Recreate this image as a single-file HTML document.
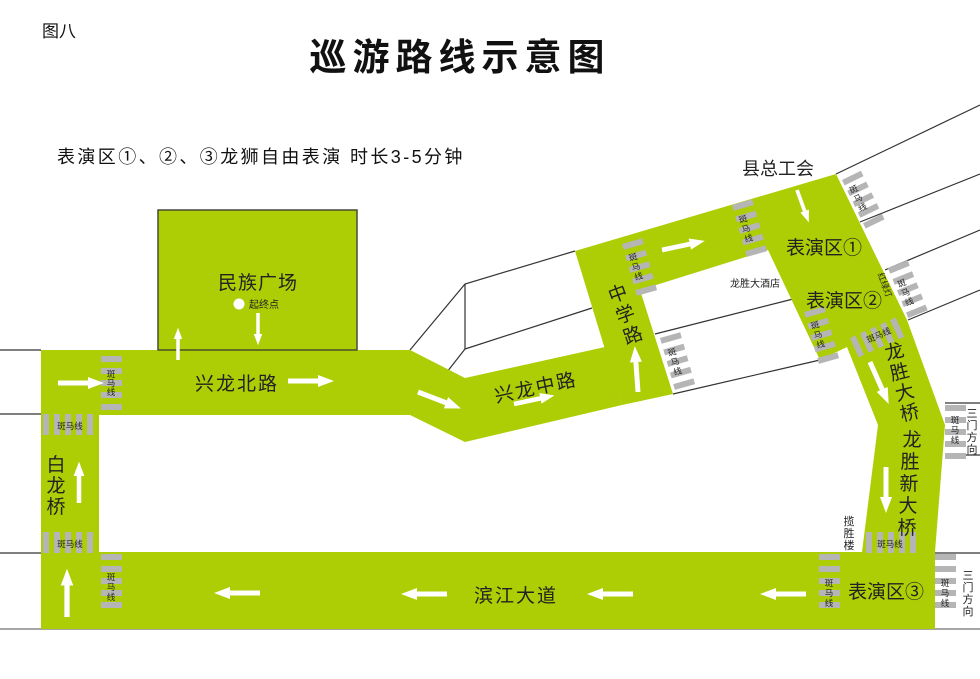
<!DOCTYPE html>
<html><head><meta charset="utf-8"><style>
body{margin:0;background:#fff;}
svg{display:block;font-family:"Liberation Sans","Noto Sans CJK SC",sans-serif;}
</style></head><body>
<svg width="980" height="679" viewBox="0 0 980 679" xmlns="http://www.w3.org/2000/svg">
<defs>
<g id="zv"><rect x="0" y="0" width="21" height="6" fill="#b5b5b5"/><rect x="0" y="12" width="21" height="6" fill="#b5b5b5"/><rect x="0" y="24" width="21" height="6" fill="#b5b5b5"/><rect x="0" y="36" width="21" height="6" fill="#b5b5b5"/><rect x="0" y="48" width="21" height="6" fill="#b5b5b5"/></g>
<g id="zh"><rect x="0" y="0" width="6" height="21" fill="#b5b5b5"/><rect x="11" y="0" width="6" height="21" fill="#b5b5b5"/><rect x="22" y="0" width="6" height="21" fill="#b5b5b5"/><rect x="33" y="0" width="6" height="21" fill="#b5b5b5"/><rect x="44" y="0" width="6" height="21" fill="#b5b5b5"/></g>
<path id="ar" d="M0,-2.5 L30,-2.5 L30,-6 L46,0 L30,6 L30,2.5 L0,2.5Z" fill="#fff"/>
</defs>
<rect width="980" height="679" fill="#fff"/>
<text x="42" y="37" font-size="17" fill="#111">图八</text>
<text x="460" y="70" font-size="37" font-weight="bold" text-anchor="middle" fill="#111" letter-spacing="6">巡游路线示意图</text>
<text x="57" y="163" font-size="18" fill="#111" letter-spacing="2.4">表演区①、②、③龙狮自由表演 时长3-5分钟</text>

<!-- outline lines -->
<g stroke="#333" stroke-width="1.2" fill="none">
<line x1="0" y1="350" x2="41" y2="350"/><line x1="0" y1="414" x2="41" y2="414"/>
<line x1="0" y1="553" x2="41" y2="553"/>
<line x1="935" y1="553" x2="980" y2="553"/>
<polyline points="410,350 465,284 575,251"/>
<line x1="465" y1="284" x2="465" y2="349"/>
<line x1="447" y1="372" x2="465" y2="349"/>
<line x1="465" y1="349" x2="592" y2="308"/>
<line x1="655" y1="334" x2="805" y2="296"/>
<line x1="673" y1="394" x2="820" y2="360"/>
<line x1="836" y1="174" x2="980" y2="105"/>
<line x1="860" y1="222" x2="980" y2="174"/>
<line x1="885" y1="270" x2="980" y2="230"/>
<line x1="908" y1="320" x2="980" y2="290"/>
<line x1="945" y1="403" x2="980" y2="403"/>
<line x1="945" y1="455" x2="980" y2="455"/>
<rect x="158" y="210" width="199" height="140"/>
</g>
<line x1="0" y1="629" x2="980" y2="629" stroke="#888" stroke-width="1.5"/>

<!-- green -->
<g fill="#adcd04">
<rect x="158" y="210" width="199" height="140"/>
<rect x="41" y="350" width="369" height="65"/>
<rect x="41" y="415" width="58" height="137"/>
<rect x="41" y="552" width="894" height="77"/>
<polygon points="410,350 465,378 465,442 410,415"/>
<polygon points="465,378 605,347 622,405 465,442"/>
<polygon points="575,251 836,174 907,320 945,425 935,552 862,552 878,425 847,347 820,360 768,250 640,290 673,394 622,405"/>
</g>
<rect x="158" y="210" width="199" height="140" fill="none" stroke="#333" stroke-width="1.2"/>

<!-- zebras -->
<use href="#zv" x="101" y="356"/>
<use href="#zh" x="43" y="414"/>
<use href="#zh" x="43" y="532"/>
<use href="#zv" x="101" y="554"/>
<use href="#zv" x="819" y="554"/>
<use href="#zv" x="935" y="554"/>
<use href="#zv" x="945" y="405"/>
<use href="#zh" x="866" y="532"/>
<g transform="translate(622,244) rotate(-16)"><use href="#zv"/></g>
<g transform="translate(732,205) rotate(-16)"><use href="#zv"/></g>
<g transform="translate(842,180) rotate(-26)"><use href="#zv"/></g>
<g transform="translate(888,268) rotate(-22)"><use href="#zv"/></g>
<g transform="translate(804,312) rotate(-16)"><use href="#zv"/></g>
<g transform="translate(660,338) rotate(-16)"><use href="#zv"/></g>
<g transform="translate(850,338) rotate(-24)"><use href="#zh"/></g>

<!-- zebra labels -->
<g font-size="8.5" fill="#222" text-anchor="middle">
<text x="111" y="377">斑</text><text x="111" y="386">马</text><text x="111" y="395">线</text>
<text x="70" y="429">斑马线</text><text x="70" y="547">斑马线</text>
<text x="111" y="580">斑</text><text x="111" y="590">马</text><text x="111" y="600">线</text>
<text x="829" y="586">斑</text><text x="829" y="596">马</text><text x="829" y="606">线</text>
<text x="945" y="586">斑</text><text x="945" y="596">马</text><text x="945" y="606">线</text>
<text x="955" y="423">斑</text><text x="955" y="433">马</text><text x="955" y="443">线</text>
<text x="890" y="547">斑马线</text>
<g transform="translate(634,260) rotate(-16)"><text>斑</text><text y="10">马</text><text y="20">线</text></g>
<g transform="translate(744,222) rotate(-16)"><text>斑</text><text y="10">马</text><text y="20">线</text></g>
<g transform="translate(855,192) rotate(-26)"><text>斑</text><text y="10">马</text><text y="20">线</text></g>
<g transform="translate(903,286) rotate(-22)"><text>斑</text><text y="10">马</text><text y="20">线</text></g>
<g transform="translate(816,328) rotate(-16)"><text>斑</text><text y="10">马</text><text y="20">线</text></g>
<g transform="translate(673,355) rotate(-16)"><text>斑</text><text y="10">马</text><text y="20">线</text></g>
<g transform="translate(880,338) rotate(-24)"><text>斑马线</text></g>
<g transform="translate(882,286) rotate(70)"><text>红绿灯</text></g>
</g>

<!-- arrows -->
<use href="#ar" transform="translate(58,383)"/>
<use href="#ar" transform="translate(288,381)"/>
<use href="#ar" transform="translate(178,360) rotate(-90) scale(0.7)"/>
<use href="#ar" transform="translate(258,313) rotate(90) scale(0.7)"/>
<use href="#ar" transform="translate(418,392) rotate(21)"/>
<use href="#ar" transform="translate(514,404) rotate(-12) scale(0.9)"/>
<use href="#ar" transform="translate(662,250) rotate(-12) scale(0.95)"/>
<use href="#ar" transform="translate(638,392) rotate(-94) scale(1)"/>
<use href="#ar" transform="translate(797,190) rotate(70) scale(0.75)"/>
<use href="#ar" transform="translate(870,362) rotate(66) scale(1)"/>
<use href="#ar" transform="translate(886,467) rotate(90) scale(1)"/>
<use href="#ar" transform="translate(79,503) rotate(-90) scale(0.9)"/>
<use href="#ar" transform="translate(67,617) rotate(-90) scale(1.05)"/>
<use href="#ar" transform="translate(260,593) rotate(180)"/>
<use href="#ar" transform="translate(447,594) rotate(180)"/>
<use href="#ar" transform="translate(633,594) rotate(180)"/>
<use href="#ar" transform="translate(806,594) rotate(180)"/>
<use href="#ar" transform="translate(26,593) rotate(180) scale(0.6)"/>

<!-- labels -->
<g fill="#222">
<text x="258" y="289" font-size="19" text-anchor="middle" letter-spacing="1">民族广场</text>
<circle cx="239" cy="304" r="5.5" fill="#fff"/>
<text x="249" y="308" font-size="10">起终点</text>
<text x="237" y="390" font-size="19" text-anchor="middle" letter-spacing="2">兴龙北路</text>
<text x="536" y="394" font-size="19" text-anchor="middle" letter-spacing="2" transform="rotate(-12 536 388)">兴龙中路</text>
<g transform="translate(620,300) rotate(-20)" font-size="19" text-anchor="middle"><text>中</text><text y="22">学</text><text y="44">路</text></g>
<text x="778" y="175" font-size="18" text-anchor="middle">县总工会</text>
<text x="755" y="287" font-size="10" text-anchor="middle">龙胜大酒店</text>
<text x="824" y="254" font-size="19" text-anchor="middle">表演区①</text>
<text x="844" y="307" font-size="19" text-anchor="middle">表演区②</text>
<g transform="translate(896,358) rotate(-14)" font-size="19" text-anchor="middle"><text>龙</text><text y="21">胜</text><text y="42">大</text><text y="63">桥</text></g>
<g font-size="19" text-anchor="middle"><text x="912" y="446">龙</text><text x="910" y="468">胜</text><text x="909" y="490">新</text><text x="908" y="512">大</text><text x="907" y="534">桥</text></g>
<g font-size="19" text-anchor="middle"><text x="56" y="471">白</text><text x="56" y="492">龙</text><text x="56" y="513">桥</text></g>
<text x="516" y="602" font-size="19" text-anchor="middle" letter-spacing="2">滨江大道</text>
<text x="886" y="598" font-size="19" text-anchor="middle">表演区③</text>
<g font-size="11" text-anchor="middle"><text x="849" y="525">揽</text><text x="849" y="537">胜</text><text x="849" y="549">楼</text></g>
<g font-size="11" text-anchor="middle"><text x="972" y="417">三</text><text x="972" y="429">门</text><text x="972" y="441">方</text><text x="972" y="453">向</text></g>
<g font-size="11" text-anchor="middle"><text x="968" y="579">三</text><text x="968" y="591">门</text><text x="968" y="603">方</text><text x="968" y="615">向</text></g>
</g>
</svg>
</body></html>
